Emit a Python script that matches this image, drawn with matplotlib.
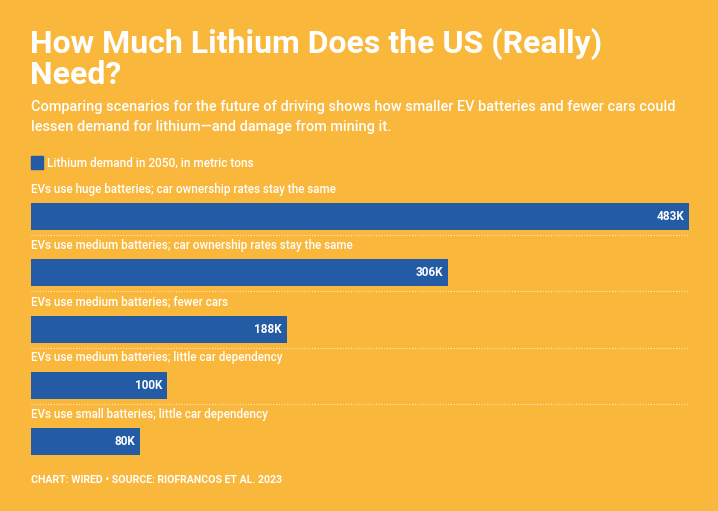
import matplotlib.pyplot as plt
from matplotlib.patches import Rectangle

# ===== Data =====
scenarios = [
    "EVs use huge batteries; car ownership rates stay the same",
    "EVs use medium batteries; car ownership rates stay the same",
    "EVs use medium batteries; fewer cars",
    "EVs use medium batteries; little car dependency",
    "EVs use small batteries; little car dependency",
]
demand_k = [483, 306, 188, 100, 80]
value_labels = ["483K", "306K", "188K", "100K", "80K"]

TITLE_LINES = ["How Much Lithium Does the US (Really)", "Need?"]
SUBTITLE_LINES = [
    "Comparing scenarios for the future of driving shows how smaller EV batteries and fewer cars could",
    "lessen demand for lithium\u2014and damage from mining it.",
]
LEGEND = "Lithium demand in 2050, in metric tons"
FOOTER = "CHART: WIRED \u2022 SOURCE: RIOFRANCOS ET AL. 2023"

# ===== Style =====
BG = "#F9B73B"
BAR = "#235BA5"
W, H = 718, 511
FONT = "Roboto"

plt.rcParams['font.family'] = [FONT, 'DejaVu Sans']

fig = plt.figure(figsize=(W / 100, H / 100), dpi=100, facecolor=BG)


def fx(px):
    return px / W


def fy(py):
    return 1 - py / H


# header text
for line, base in zip(TITLE_LINES, [52.5, 84.5]):
    fig.text(fx(30), fy(base), line, color="white", fontsize=23, fontweight="bold",
             va="baseline", ha="left")
for line, base in zip(SUBTITLE_LINES, [111, 131]):
    fig.text(fx(31), fy(base), line, color="white", fontsize=10.45, fontweight=500,
             va="baseline", ha="left")

# legend
fig.patches.append(Rectangle((fx(31), fy(169)), fx(12), 13 / H, color=BAR,
                             transform=fig.transFigure, figure=fig))
fig.text(fx(47), fy(162.5), LEGEND, color="white", fontsize=8.45, fontweight=500,
         va="center", ha="left")

# ===== Bars =====
top_px, bot_px = 160, 470
pitch = 56.25
first_center = 216.5
ax = fig.add_axes([fx(31), fy(bot_px), fx(689 - 31), (bot_px - top_px) / H])
ax.set_facecolor(BG)
ax.set_xlim(0, max(demand_k))
ax.set_ylim((bot_px - first_center) / pitch, (top_px - first_center) / pitch)

idx = list(range(len(scenarios)))
ax.barh(idx, demand_k, height=27 / pitch, color=BAR, edgecolor="none")

for i, (name, val, lab) in enumerate(zip(scenarios, demand_k, value_labels)):
    ax.text(0, i - 27.5 / pitch, name, color="white", fontsize=8.35, fontweight=500,
            va="center", ha="left")
    ax.annotate(lab, (val, i), xytext=(-5, 0), textcoords="offset pixels",
                color="white", fontsize=8.5, fontweight="bold",
                va="center", ha="right")

ax.hlines([i + 18.5 / pitch for i in idx[:-1]], 0, max(demand_k),
          colors="#FDE9C4", linestyles=(0, (1, 1.5)), linewidth=0.8)

ax.axis("off")

# footer
fig.text(fx(31), fy(480), FOOTER, color="white", fontsize=7.6, fontweight="bold",
         va="center", ha="left")

fig.savefig("out.png", dpi=100, facecolor=BG)
